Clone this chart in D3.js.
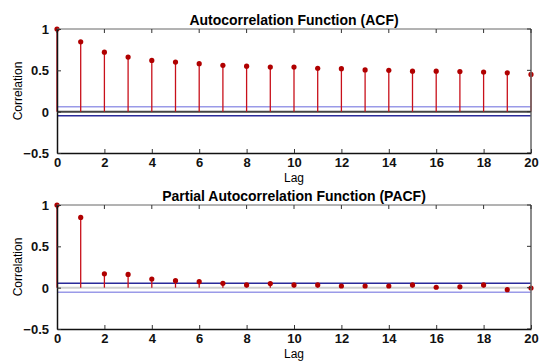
<!DOCTYPE html>
<html>
<head>
<meta charset="utf-8">
<script src="https://cdn.jsdelivr.net/npm/d3@7"></script>
<style>
  body { margin: 0; background: white; }
  svg { display: block; font-family: "Liberation Sans", Arial, sans-serif; }
</style>
</head>
<body>
<svg id="chart" width="539" height="361"></svg>
<script>
// lags 0..20
var lags = d3.range(0, 21)
var acfValues = [1, 0.845, 0.72, 0.66, 0.62, 0.60, 0.58, 0.56, 0.55, 0.54, 0.54,
    0.525, 0.52, 0.505, 0.50, 0.49, 0.49, 0.485, 0.48, 0.47, 0.45]
var pacfValues = [1, 0.85, 0.167, 0.16, 0.105, 0.085, 0.073, 0.053, 0.033, 0.05, 0.033,
    0.033, 0.02, 0.02, 0.02, 0.033, 0.005, 0.01, 0.033, -0.024, -0.004]
var acfBounds = [0.06, -0.05]
var pacfBounds = [0.053, -0.056]
var xTicks = [0, 2, 4, 6, 8, 10, 12, 14, 16, 18, 20]
var yTicks = [-0.5, 0, 0.5, 1]
var titles = ['Autocorrelation Function (ACF)', 'Partial Autocorrelation Function (PACF)']

var svg = d3.select('#chart')

function drawPanel(top, values, bounds, title, upperColor, lowerColor, zeroColor) {
    var left = 57, right = 531, bottom = top + 124
    var x = d3.scaleLinear().domain([0, 20]).range([left, right])
    var y = d3.scaleLinear().domain([-0.5, 1]).range([bottom, top])
    var g = svg.append('g')

    // confidence bounds and zero line
    g.append('line').attr('x1', left).attr('x2', right)
        .attr('y1', y(0)).attr('y2', y(0))
        .style('stroke', zeroColor).style('stroke-width', 2)
    g.append('line').attr('x1', left).attr('x2', right)
        .attr('y1', y(bounds[0])).attr('y2', y(bounds[0]))
        .style('stroke', upperColor).style('stroke-width', 1.5)
    g.append('line').attr('x1', left).attr('x2', right)
        .attr('y1', y(bounds[1])).attr('y2', y(bounds[1]))
        .style('stroke', lowerColor).style('stroke-width', 1.5)

    // stems
    g.selectAll('.stem').data(lags).enter().append('line')
        .attr('class', 'stem')
        .attr('x1', function(d) { return x(d) })
        .attr('x2', function(d) { return x(d) })
        .attr('y1', y(0))
        .attr('y2', function(d) { return y(values[d]) })
        .style('stroke', '#c8101a').style('stroke-width', 1.3)
    g.selectAll('.dot').data(lags).enter().append('circle')
        .attr('class', 'dot')
        .attr('cx', function(d) { return x(d) })
        .attr('cy', function(d) { return y(values[d]) })
        .attr('r', 2.6)
        .style('fill', '#b00000')

    // box: top and right grey
    g.append('line').attr('x1', left).attr('x2', right).attr('y1', top).attr('y2', top)
        .style('stroke', '#666').style('stroke-width', 1)
    g.append('line').attr('x1', right).attr('x2', right).attr('y1', top).attr('y2', bottom)
        .style('stroke', '#666').style('stroke-width', 1.5)
    g.selectAll('.ttick').data(xTicks).enter().append('line')
        .attr('x1', function(d) { return x(d) }).attr('x2', function(d) { return x(d) })
        .attr('y1', top).attr('y2', top + 4)
        .style('stroke', '#333')
    g.selectAll('.rtick').data(yTicks).enter().append('line')
        .attr('x1', right - 4).attr('x2', right)
        .attr('y1', function(d) { return y(d) }).attr('y2', function(d) { return y(d) })
        .style('stroke', '#333')

    // axes
    var xAxis = d3.axisBottom(x).tickValues(xTicks).tickSizeInner(-4).tickSizeOuter(0).tickPadding(5)
    var yAxis = d3.axisLeft(y).tickValues(yTicks).tickSizeInner(-4).tickSizeOuter(0).tickPadding(8)
        .tickFormat(function(d) { return d === 0 ? '0' : d3.format('')(d) })
    var gx = g.append('g').attr('transform', 'translate(0,' + bottom + ')').call(xAxis)
    var gy = g.append('g').attr('transform', 'translate(' + left + ',0)').call(yAxis)
    ;[gx, gy].forEach(function(a) {
        a.select('.domain').style('stroke', '#111').style('stroke-width', 1.5)
        a.selectAll('.tick line').style('stroke', '#333')
        a.selectAll('text').style('font-size', '13px').style('font-weight', 'bold')
            .style('fill', '#111').style('font-family', '"Liberation Sans", Arial, sans-serif')
    })
    gy.selectAll('text').attr('dy', '0.35em')

    // labels
    g.append('text').attr('x', (left + right) / 2).attr('y', top - 4)
        .style('text-anchor', 'middle').style('font-size', '14px').style('font-weight', 'bold')
        .text(title)
    g.append('text').attr('x', (left + right) / 2).attr('y', bottom + 29)
        .style('text-anchor', 'middle').style('font-size', '12px')
        .text('Lag')
    g.append('text')
        .attr('transform', 'translate(22,' + (top + bottom) / 2 + ') rotate(-90)')
        .style('text-anchor', 'middle').style('font-size', '12px')
        .text('Correlation')
}

drawPanel(29, acfValues, acfBounds, titles[0], '#9a9ae8', '#2a2a9a', '#444')
drawPanel(205, pacfValues, pacfBounds, titles[1], '#2a2a9a', '#9a9ae8', '#d0d0d0')
</script>
</body>
</html>
